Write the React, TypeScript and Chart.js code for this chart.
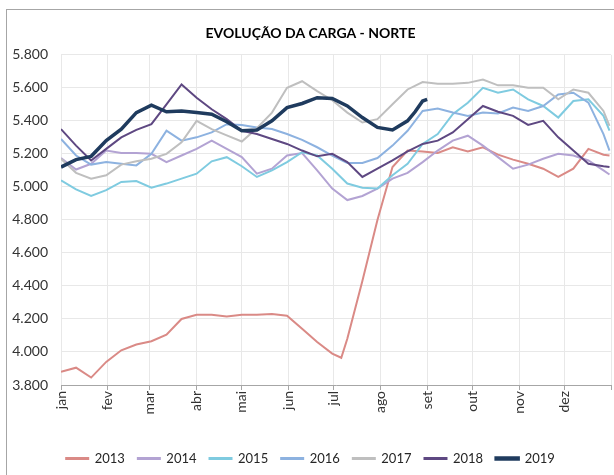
import React, { useEffect, useRef } from 'react';
import { Chart, registerables } from 'chart.js';

Chart.register(...registerables);

const TITLE = 'EVOLUÇÃO DA CARGA - NORTE';
const MONTHS = ['jan', 'fev', 'mar', 'abr', 'mai', 'jun', 'jul', 'ago', 'set', 'out', 'nov', 'dez'];
const MONTH_STARTS = [0, 31, 59, 90, 120, 151, 181, 212, 243, 273, 304, 334, 365];
const YEARS = ['2013', '2014', '2015', '2016', '2017', '2018', '2019'];

const DAYS = [0, 10, 20, 30, 40, 50, 60, 70, 80, 90, 100, 110, 120, 130, 140, 150, 160, 170, 180, 190, 200, 210, 220, 230, 240, 250, 260, 270, 280, 290, 300, 310, 320, 330, 340, 350, 360, 364];
const DAYS_2013 = [0, 10, 20, 30, 40, 50, 60, 70, 80, 90, 100, 110, 120, 130, 140, 150, 160, 170, 180, 186, 190, 200, 210, 220, 230, 240, 250, 260, 270, 280, 290, 300, 310, 320, 330, 340, 350, 360, 364];
const DAYS_2019 = [0, 10, 20, 30, 40, 50, 60, 70, 80, 90, 100, 110, 120, 130, 140, 150, 160, 170, 180, 190, 200, 210, 220, 230, 235, 240, 243];

const V2013 = [3880, 3905, 3845, 3940, 4010, 4045, 4065, 4105, 4200, 4225, 4225, 4215, 4225, 4225, 4230, 4220, 4140, 4060, 3990, 3965, 4080, 4430, 4800, 5120, 5220, 5215, 5205, 5240, 5215, 5240, 5195, 5165, 5140, 5110, 5060, 5110, 5230, 5195, 5190];
const V2014 = [5175, 5105, 5140, 5220, 5205, 5205, 5200, 5150, 5190, 5230, 5280, 5230, 5180, 5080, 5110, 5190, 5205, 5100, 4990, 4920, 4945, 4990, 5050, 5085, 5150, 5220, 5280, 5310, 5250, 5180, 5110, 5135, 5170, 5200, 5190, 5160, 5100, 5075];
const V2015 = [5040, 4985, 4945, 4980, 5030, 5035, 4995, 5020, 5050, 5080, 5155, 5180, 5125, 5060, 5100, 5150, 5210, 5190, 5110, 5020, 4995, 4990, 5070, 5140, 5260, 5320, 5440, 5510, 5600, 5570, 5590, 5530, 5490, 5420, 5520, 5530, 5430, 5340];
const V2016 = [5290, 5190, 5135, 5150, 5140, 5130, 5200, 5340, 5280, 5300, 5330, 5380, 5375, 5360, 5350, 5320, 5285, 5240, 5190, 5145, 5145, 5175, 5250, 5340, 5460, 5475, 5450, 5430, 5450, 5445, 5480, 5460, 5490, 5560, 5570, 5510, 5320, 5220];
const V2017 = [5170, 5085, 5050, 5070, 5135, 5155, 5170, 5200, 5270, 5400, 5350, 5312, 5275, 5355, 5450, 5600, 5640, 5580, 5525, 5450, 5390, 5410, 5500, 5590, 5635, 5625, 5625, 5630, 5650, 5615, 5615, 5600, 5600, 5530, 5590, 5570, 5460, 5370];
const V2018 = [5350, 5250, 5160, 5230, 5300, 5345, 5380, 5500, 5620, 5540, 5470, 5410, 5340, 5320, 5290, 5260, 5220, 5185, 5200, 5150, 5060, 5110, 5160, 5215, 5260, 5280, 5330, 5410, 5490, 5455, 5430, 5375, 5400, 5300, 5220, 5140, 5125, 5120];
const V2019 = [5120, 5165, 5185, 5280, 5350, 5450, 5495, 5455, 5460, 5450, 5440, 5395, 5340, 5345, 5400, 5480, 5505, 5540, 5535, 5490, 5420, 5360, 5345, 5400, 5455, 5520, 5530];

const SERIES_DAYS = [DAYS_2013, DAYS, DAYS, DAYS, DAYS, DAYS, DAYS_2019];
const SERIES_VALUES = [V2013, V2014, V2015, V2016, V2017, V2018, V2019];
const COLORS = ['#DA8A86', '#B3A3D3', '#7FCBE0', '#8DB2E0', '#BFBFBF', '#5E4882', '#1F3B5E'];
const WIDTHS = [2, 2, 2, 2, 2, 2, 3.5];

const FONT = 'Lato, "Open Sans", "DejaVu Sans", sans-serif';

function fmt(v: number): string {
  const th = Math.floor(v / 1000);
  const rest = Math.round(v % 1000);
  return th + '.' + String(rest).padStart(3, '0');
}

export default function App() {
  const ref = useRef<HTMLCanvasElement | null>(null);

  useEffect(() => {
    if (!ref.current) return;
    const datasets = YEARS.map((y, i) => ({
      label: y,
      data: SERIES_DAYS[i].map((d, k) => ({ x: d, y: SERIES_VALUES[i][k] })),
      borderColor: COLORS[i],
      backgroundColor: COLORS[i],
      borderWidth: WIDTHS[i],
      pointRadius: 0,
      tension: 0,
      order: YEARS.length - 1 - i,
    }));
    const chart = new Chart(ref.current, {
      type: 'line',
      data: { datasets },
      options: {
        responsive: false,
        animation: false,
        layout: { padding: { left: 10, right: 3, top: 0, bottom: 0 } },
        plugins: {
          title: {
            display: true,
            text: TITLE,
            color: '#000',
            font: { family: FONT, size: 14, weight: 'bold' },
            padding: { top: 25, bottom: 13 },
          },
          legend: {
            position: 'bottom',
            labels: {
              boxWidth: 22,
              boxHeight: 1,
              padding: 13,
              color: '#262626',
              font: { family: FONT, size: 13 },
              sort: (a: any, b: any) => a.datasetIndex - b.datasetIndex,
            },
          },
          tooltip: { enabled: false },
        },
        scales: {
          x: {
            type: 'linear',
            min: 0,
            max: 365,
            afterBuildTicks: (s: any) => {
              s.ticks = MONTH_STARTS.map((v) => ({ value: v }));
            },
            afterFit: (s: any) => {
              s.height = 54;
              s.paddingLeft = 0;
              s.paddingRight = 0;
            },
            ticks: {
              autoSkip: false,
              maxRotation: 90,
              minRotation: 90,
              padding: 1,
              color: '#333',
              font: { family: FONT, size: 14 },
              callback: (v: any) => {
                const idx = MONTH_STARTS.indexOf(Number(v));
                return idx >= 0 && idx < MONTHS.length ? MONTHS[idx] : '';
              },
            },
            grid: { color: '#e8e8e8', tickColor: '#a6a6a6', tickLength: 5 },
            border: { color: '#a6a6a6' },
          },
          y: {
            min: 3800,
            max: 5800,
            afterFit: (s: any) => {
              s.width = 51;
            },
            ticks: {
              stepSize: 200,
              padding: 13,
              color: '#333',
              font: { family: FONT, size: 14 },
              callback: (v: any) => fmt(Number(v)),
            },
            grid: { color: '#e8e8e8', drawTicks: false },
            border: { display: false },
          },
        },
      },
    });
    return () => chart.destroy();
  }, []);

  return (
    <div style={{ position: 'absolute', left: 0, top: 0, width: 614, height: 475, overflow: 'hidden', background: '#fff' }}>
      <div
        style={{
          position: 'absolute',
          left: 6,
          top: 9,
          width: 700,
          height: 600,
          borderLeft: '1px solid #a6a6a6',
          borderTop: '1px solid #a6a6a6',
        }}
      />
      <canvas ref={ref} width={614} height={475} style={{ position: 'absolute', left: 0, top: 0 }} />
    </div>
  );
}
